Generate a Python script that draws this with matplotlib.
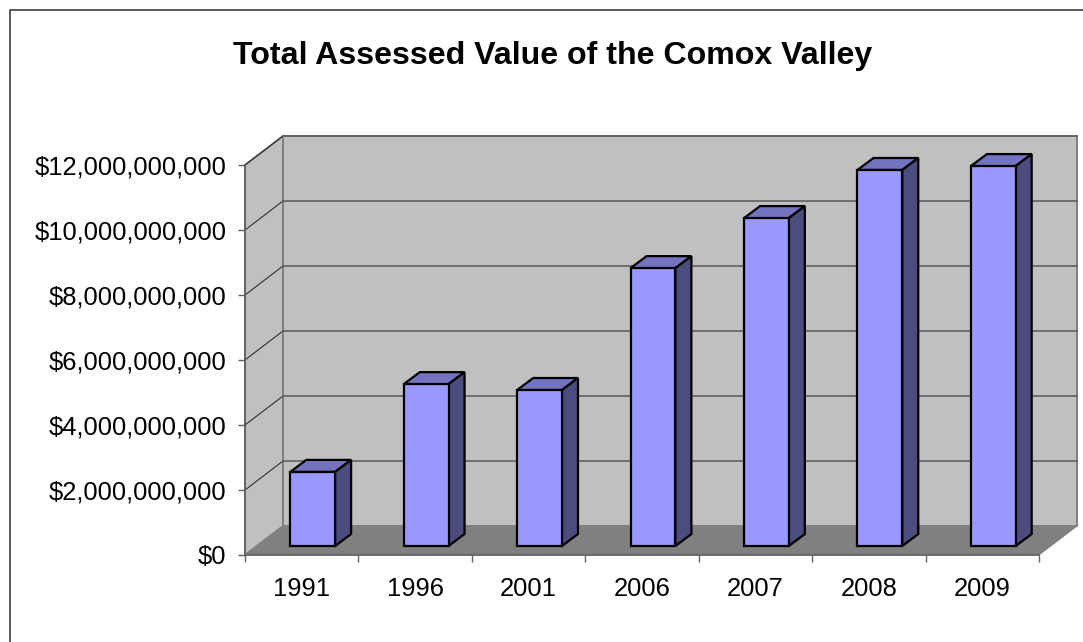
"""Pseudo 3D column chart of the total assessed value of the Comox Valley"""

import numpy as np
from matplotlib import pyplot as plt
from matplotlib.lines import Line2D
from matplotlib.ticker import StrMethodFormatter

years = ['1991', '1996', '2001', '2006', '2007', '2008', '2009']
assessed_values = [2.28e9, 4.98e9, 4.80e9, 8.55e9, 10.09e9, 11.57e9, 11.69e9]
value_ticks = [0, 2e9, 4e9, 6e9, 8e9, 10e9, 12e9]

WIDTH, HEIGHT = 1083, 642
LEFT, RIGHT, TOP, BOTTOM = 245, 1039, 165, 555
MAX_VALUE = 12e9
BAR_WIDTH = 0.395
EDGE = 1.6

plt.rcParams['font.family'] = ['Liberation Sans', 'DejaVu Sans']

fig = plt.figure(figsize=(WIDTH / 100, HEIGHT / 100), dpi=100, facecolor='white')
ax = fig.add_axes([LEFT / WIDTH, (HEIGHT - BOTTOM) / HEIGHT, (RIGHT - LEFT) / WIDTH, (BOTTOM - TOP) / HEIGHT])
ax.set_xlim(0, len(years))
ax.set_ylim(0, MAX_VALUE)
ax.patch.set_visible(False)

# one pixel in data units, the depth offsets are all measured in pixels
px_x = len(years) / (RIGHT - LEFT)
px_y = MAX_VALUE / (BOTTOM - TOP)
wall_dx, wall_dy = 38 * px_x, 29 * px_y
bar_dx, bar_dy = 11 * px_x, 9 * px_y
depth_dx, depth_dy = 16 * px_x, 12 * px_y
x_end = len(years)

# walls and floor
ax.fill([0, wall_dx, wall_dx, 0], [0, wall_dy, MAX_VALUE + wall_dy, MAX_VALUE],
        facecolor='#C0C0C0', edgecolor='#808080', lw=1.4, clip_on=False, zorder=1)
ax.fill([wall_dx, x_end + wall_dx, x_end + wall_dx, wall_dx], [wall_dy, wall_dy, MAX_VALUE + wall_dy, MAX_VALUE + wall_dy],
        facecolor='#C0C0C0', edgecolor='#808080', lw=1.4, clip_on=False, zorder=1)
ax.fill([0, x_end, x_end + wall_dx, wall_dx], [0, 0, wall_dy, wall_dy],
        facecolor='#808080', edgecolor='#808080', lw=0.7, clip_on=False, zorder=1)

# gridlines run along the side wall and the back wall
for tick in value_ticks[1:]:
    ax.plot([0, wall_dx], [tick, tick + wall_dy], color='#303030', lw=0.8, clip_on=False, zorder=2)
    ax.plot([wall_dx, x_end + wall_dx], [tick + wall_dy, tick + wall_dy], color='#606060', lw=1.2, clip_on=False, zorder=2)

centers = np.arange(len(years)) + 0.5
front_left = centers + bar_dx - BAR_WIDTH / 2
front_right = centers + bar_dx + BAR_WIDTH / 2

for x0, x1, value in zip(front_left, front_right, assessed_values):
    top = value + bar_dy
    ax.fill([x0, x1, x1 + depth_dx, x0 + depth_dx], [top, top, top + depth_dy, top + depth_dy],
            facecolor='#7373BF', edgecolor='black', lw=EDGE, joinstyle='miter', clip_on=False, zorder=3)
    ax.fill([x1, x1 + depth_dx, x1 + depth_dx, x1], [bar_dy, bar_dy + depth_dy, top + depth_dy, top],
            facecolor='#4C4C7F', edgecolor='black', lw=EDGE, joinstyle='miter', clip_on=False, zorder=3)

ax.bar(centers + bar_dx, assessed_values, BAR_WIDTH, bottom=bar_dy, color='#9999FF', edgecolor='black',
       linewidth=EDGE, clip_on=False, zorder=4)

for side in ['top', 'right']:
    ax.spines[side].set_visible(False)
for side in ['left', 'bottom']:
    ax.spines[side].set_color('#606060')
    ax.spines[side].set_linewidth(1.2)
    ax.spines[side].set_zorder(5)

ax.yaxis.set_major_formatter(StrMethodFormatter('${x:,.0f}'))
ax.set_yticks(value_ticks)
ax.tick_params(axis='y', length=5, width=1.0, color='#606060', pad=8.5, labelsize=18.4, labelcolor='black')
ax.set_xticks(np.arange(len(years) + 1))
ax.set_xticklabels([])
ax.tick_params(axis='x', which='major', length=5, width=1.0, color='#606060')
ax.set_xticks(centers, minor=True)
ax.set_xticklabels(years, minor=True)
ax.tick_params(axis='x', which='minor', length=0, pad=15.5, labelsize=18.4, labelcolor='black')

fig.text(553 / WIDTH, 1 - 56 / HEIGHT, 'Total Assessed Value of the Comox Valley', ha='center', va='center',
         fontsize=23.1, fontweight='bold', color='black')

# chart area border, only the left and top edges are inside the picture
fig.add_artist(Line2D([9.5 / WIDTH, 9.5 / WIDTH, 1], [0, 1 - 10 / HEIGHT, 1 - 10 / HEIGHT], color='#404040', lw=1.2))

fig.savefig('out.png', dpi=100)
